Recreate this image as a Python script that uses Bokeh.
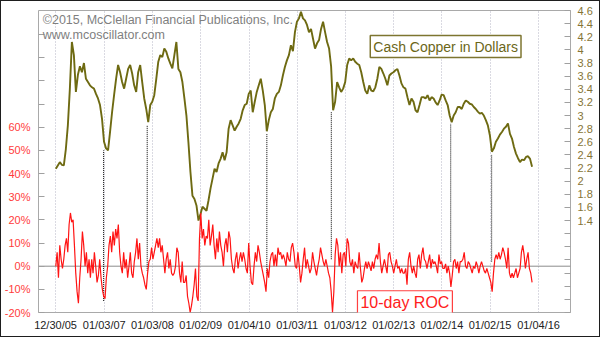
import pandas as pd
from bokeh.plotting import figure
from bokeh.models import (Range1d, LinearAxis, FixedTicker, CustomJSTickFormatter,
                          DatetimeTickFormatter, Span, Label)
from bokeh.embed import file_html
from bokeh.resources import INLINE

# ---------------- data ----------------
copper_start, copper_end = "2006-01-01", "2015-11-16"   # semi-monthly readings
copper = [
    2.19, 2.24, 2.29, 2.25, 2.24, 2.49, 2.85, 3.41, 4.12, 3.92,
    3.36, 3.62, 3.75, 3.66, 3.80, 3.56, 3.51, 3.46, 3.43, 3.41,
    3.33, 3.26, 3.16, 2.95, 2.60, 2.50, 2.47, 2.75, 3.05, 3.31,
    3.56, 3.77, 3.66, 3.51, 3.41, 3.56, 3.71, 3.77, 3.64, 3.46,
    3.36, 3.66, 3.77, 3.51, 3.26, 3.10, 2.90, 3.16, 3.21, 3.31,
    3.56, 3.82, 3.92, 3.89, 4.02, 3.97, 3.87, 3.79, 3.72, 3.92,
    4.12, 3.71, 3.66, 3.51, 3.26, 3.00, 2.59, 2.14, 1.78, 1.73,
    1.63, 1.40, 1.50, 1.61, 1.58, 1.55, 1.71, 1.89, 2.04, 2.19,
    2.14, 2.27, 2.34, 2.44, 2.32, 2.44, 2.80, 2.93, 2.85, 2.77,
    2.83, 2.88, 2.95, 3.08, 3.16, 3.18, 3.33, 3.38, 3.05, 3.21,
    3.36, 3.46, 3.56, 3.38, 3.16, 2.76, 2.93, 3.05, 3.10, 3.26,
    3.33, 3.36, 3.46, 3.61, 3.74, 3.84, 3.92, 4.07, 3.98, 4.27,
    4.43, 4.48, 4.58, 4.48, 4.45, 4.38, 4.27, 4.32, 4.17, 4.02,
    4.10, 4.15, 4.32, 4.43, 4.27, 4.12, 4.02, 3.75, 3.08, 3.21,
    3.51, 3.43, 3.36, 3.41, 3.51, 3.77, 3.87, 3.84, 3.87, 3.82,
    3.79, 3.77, 3.66, 3.51, 3.38, 3.33, 3.46, 3.38, 3.37, 3.43,
    3.56, 3.74, 3.71, 3.64, 3.56, 3.46, 3.61, 3.64, 3.66, 3.69,
    3.71, 3.61, 3.49, 3.43, 3.41, 3.28, 3.16, 3.26, 3.21, 3.08,
    3.05, 3.16, 3.28, 3.28, 3.26, 3.31, 3.23, 3.28, 3.26, 3.20,
    3.16, 3.23, 3.32, 3.31, 3.23, 3.16, 3.00, 2.90, 3.00, 3.05,
    3.13, 3.13, 3.10, 3.18, 3.23, 3.21, 3.18, 3.17, 3.13, 3.10,
    3.06, 3.03, 3.04, 3.00, 2.93, 2.85, 2.70, 2.45, 2.50, 2.60,
    2.65, 2.71, 2.75, 2.80, 2.83, 2.88, 2.72, 2.65, 2.52, 2.42,
    2.35, 2.29, 2.33, 2.32, 2.37, 2.38, 2.34, 2.22,
]

roc_start, roc_end = "2006-01-01", "2015-11-16"   # ~10-day readings, percent
roc = [
    0, 6, -5, 9, 3, -1, 3, 9, 12, 6,
    18, 23, 19, 20, 9, -3, -11, -16, -5, 3,
    15, 9, 0, 6, -3, 3, -5, 3, -3, 6,
    0, -7, -4, 3, -5, -10, -13, -14, -5, 0,
    9, 13, 6, 15, 9, 16, 12, 18, 6, 0,
    -3, 6, -1, 3, -5, 0, 6, -3, -5, 2,
    6, 12, 3, 10, 0, -3, -5, -8, -10, -3,
    2, 3, 8, 3, 6, 9, 12, 8, 12, 6,
    9, 3, -3, 3, 6, -1, 3, -3, -4,
    -3, 0, 8, 6, -3, -7, 2, -7, -7, -4,
    -13, -16, -20, -17, -13, -8, -1, -13, -15, 12,
    23, 12, 16, 9, 13, 12, 20, 9, 13, 18,
    9, 3, 12, 6, 15, 9, 6, 0, 9, 12,
    6, 15, 12, 3, -1, -3, 3, 6, -1, 3,
    6, 2, 6, 3, -1, -3, 10, 0, -7, -8,
    0, 6, 2, 9, 6, 2, -1, -4, -7, -11,
    -1, -5, 2, 5, 6, 0, 5, 0, 8, 5,
    6, 3, 5, 3, 0, 6, 3, 2, 8, 10,
    6, 0,
    -1, 6, 0, -7, -3, 3, 8, -1, 3, 0,
    -3, -1, 6, 2, -1, -4, 0, 3, 8, 5,
    2, 0, 3, 0, -3, -5, -11, -20, -11, 5,
    12, 9, 0, 6, -3, 5, 6, 0, 12, 10,
    2, 0, 3, -3, 2, 0, -1, 6, -1, -7,
    -5, -1, 2, -1, 2, 0, -2, 2, -1, 3,
    5, 3, 10, 2, -3, 0, 3, 0, -3, 5,
    6, 2, 0, -3, 0, 3, -1, 0, -3, -1,
    -3, -3, -1, -8, 3, 6, 0, -3, 0, -3, -5,
    3, 5, -1, 5, 8, 3, 2, -1, 2, 5,
    -1, 3, 1, 2, 0, -3, 5, 1, 2, -1,
    -1, 1, -3, 0, -3, -9, -4, 2, 3, -1,
    2, -3, 2, 2, 3, 6, 0, -1, 2, 1,
    -1, -3, 0, -1, 2, 0, -3, 0, 2, 0,
    -2, -3, -1, -3, -5, -7, -11, -3, 3, 5,
    3, 6, 3, 5, 8, 6, 3, -1, 8, -3,
    -5, -3, -5, -3, -1, -5, -3, -1, 6, 9,
    5, -1, 3, 6, -1, -3, -7,
]

# copper-low markers: date, copper value, ROC value (%)
marker_dates = ["2006-12-29", "2007-11-24", "2010-05-18", "2011-09-18", "2014-03-10", "2015-01-14"]
marker_copper = [2.47, 2.85, 2.73, 3.05, 2.88, 2.40]
marker_roc = [-15, -2, -3, 3, 2, 2]

tick_dates = ["2005-12-30", "2007-01-03", "2008-01-03", "2009-01-02", "2010-01-04", "2011-01-03",
              "2012-01-03", "2013-01-02", "2014-01-02", "2015-01-02", "2016-01-04"]
tick_labels = ["12/30/05", "01/03/07", "01/03/08", "01/02/09", "01/04/10", "01/03/11",
               "01/03/12", "01/02/13", "01/02/14", "01/02/15", "01/04/16"]
roc_ticks = [-20, -10, 0, 10, 20, 30, 40, 50, 60, 70, 80, 90, 100]
copper_ticks = [0.0, 0.2, 0.4, 0.6, 0.8, 1.0, 1.2, 1.4, 1.6, 1.8, 2.0, 2.2, 2.4,
                2.6, 2.8, 3.0, 3.2, 3.4, 3.6, 3.8, 4.0, 4.2, 4.4, 4.6]

# ---------------- figure ----------------
ROC_MIN, ROC_MAX = -20.0, 110.45
CU_MIN, CU_MAX = 0.0, 4.6
FONT = "Liberation Sans"

copper_dates = pd.date_range(copper_start, copper_end, periods=len(copper))
roc_dates = pd.date_range(roc_start, roc_end, periods=len(roc))

def ms(d):
    return pd.Timestamp(d).value / 1e6

p = figure(frame_width=532, frame_height=302, x_axis_type="datetime",
           x_range=Range1d(ms("2005-08-23"), ms("2016-09-02")),
           y_range=Range1d(ROC_MIN, ROC_MAX),
           output_backend="svg", toolbar_location=None,
           min_border_left=37, min_border_right=29, min_border_top=9, min_border_bottom=24,
           background_fill_color="white", border_fill_color="white")
p.styles = {"border": "1px solid #1e1e1e"}
p.outline_line_color = "#a9a9a9"
p.extra_y_ranges = {"cu": Range1d(CU_MIN, CU_MAX)}

# x axis
tick_ms = [ms(d) for d in tick_dates]
p.xaxis.ticker = FixedTicker(ticks=tick_ms)
p.xaxis.formatter = DatetimeTickFormatter(days="%m/%d/%y", months="%m/%d/%y", years="%m/%d/%y",
                                          hours="%m/%d/%y", minutes="%m/%d/%y")
p.xaxis.axis_line_color = None
p.xaxis.major_tick_line_color = None
p.xaxis.minor_tick_line_color = None
p.xaxis.major_tick_in = 0
p.xaxis.major_tick_out = 0
p.xaxis.major_label_standoff = 6
p.xaxis.major_label_text_font = FONT
p.xaxis.major_label_text_font_size = "11px"
p.xaxis.major_label_text_color = "#222222"

# left axis (ROC)
p.yaxis.ticker = FixedTicker(ticks=roc_ticks)
p.yaxis.formatter = CustomJSTickFormatter(code="return tick <= 60 ? tick.toFixed(0) + '%' : '';")
p.yaxis.axis_line_color = None
p.yaxis.major_tick_in = 6
p.yaxis.major_tick_out = 0
p.yaxis.major_tick_line_color = "#a0a0a0"
p.yaxis.minor_tick_line_color = None
p.yaxis.major_label_standoff = 8
p.yaxis.major_label_text_font = FONT
p.yaxis.major_label_text_font_size = "11px"
p.yaxis.major_label_text_color = "#ff3b3b"

# right axis (copper)
ax = LinearAxis(y_range_name="cu", ticker=FixedTicker(ticks=copper_ticks),
                formatter=CustomJSTickFormatter(
                    code="return tick >= 1.3 ? String(Math.round(tick * 10) / 10) : '';"))
ax.axis_line_color = None
ax.major_tick_in = 6
ax.major_tick_out = 0
ax.major_tick_line_color = "#a0a0a0"
ax.minor_tick_line_color = None
ax.major_label_standoff = 7
ax.major_label_text_font = FONT
ax.major_label_text_font_size = "11px"
ax.major_label_text_color = "#857436"
p.add_layout(ax, "right")

# grids
p.xgrid.ticker = FixedTicker(ticks=tick_ms)
p.xgrid.grid_line_color = "#b4b4c4"
p.xgrid.grid_line_dash = "1 2"
p.ygrid.visible = False

# zero line
p.add_layout(Span(location=0, dimension="width", line_color="#8c8c8c", line_width=1, level="underlay"))

# marker lines (copper value converted onto the ROC scale)
marker_top = [ROC_MIN + (c - CU_MIN) / (CU_MAX - CU_MIN) * (ROC_MAX - ROC_MIN) for c in marker_copper]
mdates = pd.to_datetime(marker_dates)
p.segment(x0=mdates, y0=marker_roc, x1=mdates, y1=marker_top,
          line_color="#000000", line_dash="1 1", line_width=1)

# series
p.line(copper_dates, copper, line_color="#6e6a12", line_width=1.9, y_range_name="cu")
p.line(roc_dates, roc, line_color="#ff1414", line_width=1.2)

# texts
p.add_layout(Label(x=ms("2005-09-24"), y=109.2, text="©2015, McClellan Financial Publications, Inc.",
                   text_font=FONT, text_font_size="12.5px", text_color="#7f7f7f",
                   text_align="left", text_baseline="top"))
p.add_layout(Label(x=ms("2005-09-24"), y=102.7, text="www.mcoscillator.com",
                   text_font=FONT, text_font_size="12.5px", text_color="#7f7f7f",
                   text_align="left", text_baseline="top"))
p.add_layout(Label(x=ms("2012-07-09"), y=99.6, text="Cash Copper in Dollars",
                   text_font=FONT, text_font_size="14px", text_color="#6b6618",
                   text_align="left", text_baseline="top",
                   border_line_color="#7d7530", border_line_width=1.5,
                   background_fill_color="white", padding=3))
p.add_layout(Label(x=ms("2012-04-03"), y=-10.6, text="10-day ROC",
                   text_font=FONT, text_font_size="16px", text_color="#ff2020",
                   text_align="left", text_baseline="top",
                   border_line_color="#ff4040", border_line_width=1.2,
                   background_fill_color="white", padding=3))

open("out.html", "w").write(file_html(p, INLINE))
